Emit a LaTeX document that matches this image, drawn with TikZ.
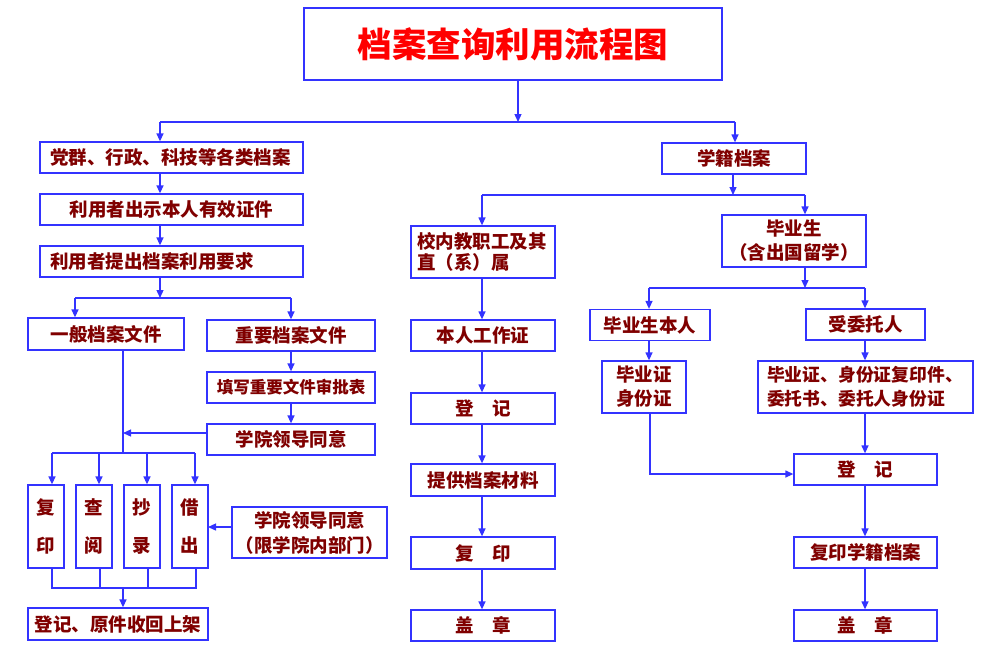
\documentclass[tikz,border=0pt]{standalone}
\usepackage{fontspec}
\newfontfamily\cjk{Noto Sans CJK SC}
\usetikzlibrary{arrows.meta}
\definecolor{bblue}{RGB}{51,51,255}
\definecolor{dred}{RGB}{128,0,0}
\begin{document}
\begin{tikzpicture}[x=1pt,y=-1pt,
  box/.style={draw=bblue, line width=1.3pt, fill=white, text=dred, inner sep=0pt, align=center,
    font={\cjk\bfseries\fontsize{18.5}{24}\selectfont}},
  lbox/.style={box, align=left},
  vbox/.style={box, font={\cjk\bfseries\fontsize{18.5}{38}\selectfont}},
  conn/.style={draw=bblue, line width=1.3pt},
  arr/.style={conn, -{Triangle[width=7pt,length=8pt]}}]
\useasboundingbox (0,0) rectangle (998,649);
\fill[white] (0,0) rectangle (998,649);
% title
\node[box, minimum width=418pt, minimum height=72pt, text=red, font={\cjk\bfseries\fontsize{34.5}{40}\selectfont}] (title) at (513,44) {档案查询利用流程图};
% left branch
\node[lbox, minimum width=263pt, minimum height=31pt, text width=243pt, inner xsep=10pt] (a1) at (171.5,157.5) {党群、行政、科技等各类档案};
\node[box, minimum width=263pt, minimum height=31pt] (a2) at (171.5,209.5) {利用者出示本人有效证件};
\node[lbox, minimum width=263pt, minimum height=31pt, text width=243pt, inner xsep=10pt] (a3) at (171.5,261.5) {利用者提出档案利用要求};
\node[box, minimum width=156pt, minimum height=32pt] (b1) at (106,334) {一般档案文件};
\node[box, minimum width=168pt, minimum height=31pt] (b2) at (291,335.5) {重要档案文件};
\node[box, minimum width=168pt, minimum height=31pt, font={\cjk\bfseries\fontsize{16.5}{24}\selectfont}] (b3) at (291,387.5) {填写重要文件审批表};
\node[box, minimum width=168pt, minimum height=31pt] (b4) at (291,439.5) {学院领导同意};
\node[vbox, minimum width=36pt, minimum height=83pt] (c1) at (46,526.5) {复\\印};
\node[vbox, minimum width=36pt, minimum height=83pt] (c2) at (94,526.5) {查\\阅};
\node[vbox, minimum width=36pt, minimum height=83pt] (c3) at (142,526.5) {抄\\录};
\node[vbox, minimum width=36pt, minimum height=83pt] (c4) at (190,526.5) {借\\出};
\node[box, minimum width=155pt, minimum height=51pt, font={\cjk\bfseries\fontsize{18.5}{25}\selectfont}] (d) at (309.5,532.5) {学院领导同意\\（限学院内部门）};
\node[box, minimum width=180pt, minimum height=32pt] (e) at (118,624) {登记、原件收回上架};
% middle branch
\node[lbox, minimum width=144pt, minimum height=52pt, text width=132pt, inner xsep=6pt, font={\cjk\bfseries\fontsize{18.5}{21}\selectfont}] (m1) at (483,252) {校内教职工及其\\直（系）属};
\node[box, minimum width=144pt, minimum height=31pt] (m2) at (483,335.5) {本人工作证};
\node[box, minimum width=144pt, minimum height=31pt] (m3) at (483,408.5) {登　记};
\node[box, minimum width=144pt, minimum height=32pt] (m4) at (483,480) {提供档案材料};
\node[box, minimum width=144pt, minimum height=32pt] (m5) at (483,553) {复　印};
\node[box, minimum width=144pt, minimum height=31pt] (m6) at (483,625.5) {盖　章};
% right branch
\node[box, minimum width=144pt, minimum height=31pt] (xj) at (734,158.5) {学籍档案};
\node[box, minimum width=144pt, minimum height=52pt] (g) at (794,241) {毕业生\\（含出国留学）};
\node[box, minimum width=120pt, minimum height=31pt] (r1) at (650,325) {毕业生本人};
\node[box, minimum width=119pt, minimum height=31pt] (r2) at (865.5,324.5) {受委托人};
\node[box, minimum width=84pt, minimum height=52pt] (r3) at (644,387) {毕业证\\身份证};
\node[lbox, minimum width=215pt, minimum height=52pt, text width=197pt, inner xsep=9pt, font={\cjk\bfseries\fontsize{17.8}{24}\selectfont}] (r4) at (865.5,387) {毕业证、身份证复印件、\\委托书、委托人身份证};
\node[box, minimum width=143pt, minimum height=31pt] (r5) at (865.5,469.5) {登　记};
\node[box, minimum width=143pt, minimum height=31pt] (r6) at (865.5,552.5) {复印学籍档案};
\node[box, minimum width=143pt, minimum height=31pt] (r7) at (865.5,625.5) {盖　章};
% junction coordinates
\coordinate (j0) at (518,122);
\coordinate (jL) at (160,122);
\coordinate (jR) at (735,122);
\coordinate (k0) at (160,298);
\coordinate (kL) at (75,298);
\coordinate (kR) at (291,298);
\coordinate (p) at (123,433);
\coordinate (q) at (123,453);
\coordinate (qL) at (52,453);
\coordinate (qR) at (195,453);
\coordinate (q2) at (99,453);
\coordinate (q3) at (147,453);
\coordinate (s) at (123,588);
\coordinate (sL) at (52,588);
\coordinate (sR) at (196,588);
\coordinate (s2) at (100,588);
\coordinate (s3) at (148,588);
\coordinate (dd) at (208,527);
\coordinate (t0) at (733,195);
\coordinate (tL) at (482,195);
\coordinate (tR) at (805,195);
\coordinate (u0) at (805,288);
\coordinate (uL) at (649,288);
\coordinate (uR) at (865,288);
\coordinate (v) at (650,474);
% connectors: top
\draw[arr] (title.south -| j0) -- (j0);
\draw[conn] (jL) -- (jR);
\draw[arr] (jL) -- (jL |- a1.north);
\draw[arr] (jR) -- (jR |- xj.north);
% left
\draw[arr] (jL |- a1.south) -- (jL |- a2.north);
\draw[arr] (jL |- a2.south) -- (jL |- a3.north);
\draw[arr] (k0 |- a3.south) -- (k0);
\draw[conn] (kL) -- (kR);
\draw[arr] (kL) -- (kL |- b1.north);
\draw[arr] (kR) -- (kR |- b2.north);
\draw[arr] (kR |- b2.south) -- (kR |- b3.north);
\draw[arr] (kR |- b3.south) -- (kR |- b4.north);
\draw[conn] (q |- b1.south) -- (q);
\draw[arr] (b4.west |- p) -- (p);
\draw[conn] (qL) -- (qR);
\draw[arr] (qL) -- (qL |- c1.north);
\draw[arr] (q2) -- (q2 |- c2.north);
\draw[arr] (q3) -- (q3 |- c3.north);
\draw[arr] (qR) -- (qR |- c4.north);
\draw[arr] (d.west |- dd) -- (dd);
\draw[conn] (sL |- c1.south) -- (sL) -- (sR) -- (sR |- c4.south);
\draw[conn] (s2 |- c2.south) -- (s2);
\draw[conn] (s3 |- c3.south) -- (s3);
\draw[arr] (s) -- (s |- e.north);
% middle
\draw[arr] (t0 |- xj.south) -- (t0);
\draw[conn] (tL) -- (tR);
\draw[arr] (tL) -- (tL |- m1.north);
\draw[arr] (tR) -- (tR |- g.north);
\draw[arr] (tL |- m1.south) -- (tL |- m2.north);
\draw[arr] (tL |- m2.south) -- (tL |- m3.north);
\draw[arr] (tL |- m3.south) -- (tL |- m4.north);
\draw[arr] (tL |- m4.south) -- (tL |- m5.north);
\draw[arr] (tL |- m5.south) -- (tL |- m6.north);
% right
\draw[arr] (u0 |- g.south) -- (u0);
\draw[conn] (uL) -- (uR);
\draw[arr] (uL) -- (uL |- r1.north);
\draw[arr] (uR) -- (uR |- r2.north);
\draw[arr] (uL |- r1.south) -- (uL |- r3.north);
\draw[arr] (uR |- r2.south) -- (uR |- r4.north);
\draw[arr] (v |- r3.south) -- (v) -- (r5.west |- v);
\draw[arr] (uR |- r4.south) -- (uR |- r5.north);
\draw[arr] (uR |- r5.south) -- (uR |- r6.north);
\draw[arr] (uR |- r6.south) -- (uR |- r7.north);
\end{tikzpicture}
\end{document}
